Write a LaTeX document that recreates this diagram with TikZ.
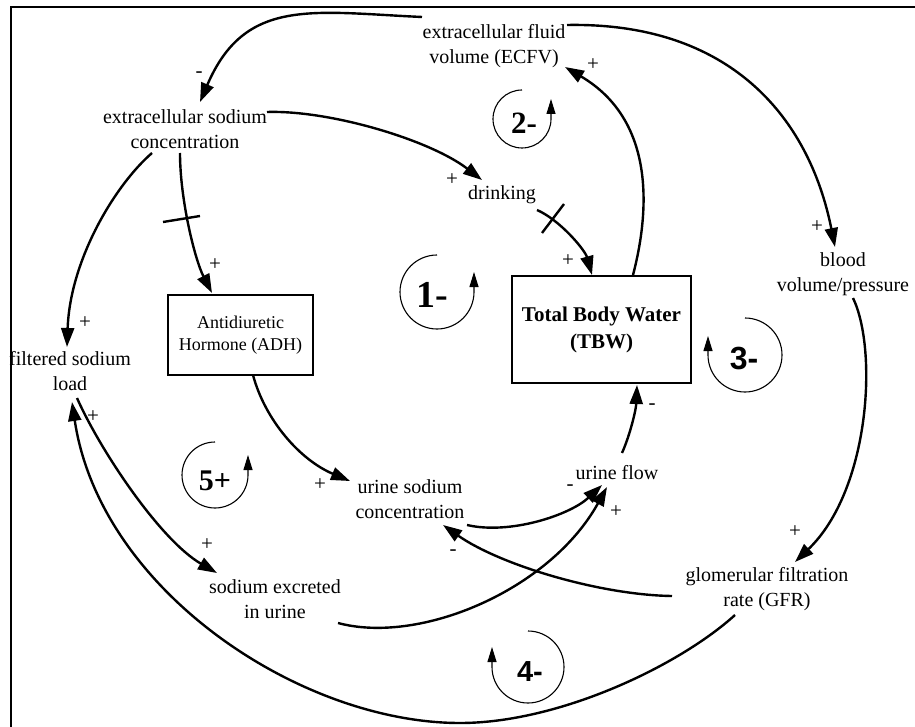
\documentclass[tikz,border=0pt]{standalone}
\usepackage{fontspec}
\setmainfont{Liberation Serif}
\newfontfamily\loopsans{Liberation Sans}
\usetikzlibrary{arrows.meta}
\tikzset{
  lbl/.style={inner sep=0pt, align=center, font=\fontsize{20}{24.5}\selectfont},
  boxnode/.style={draw, line width=1.2pt, inner sep=0pt, align=center},
  link/.style={line width=2.4pt, -{Triangle[length=19pt,width=13pt]}},
  delaymark/.style={line width=2.4pt},
  pol/.style={inner sep=0pt, font=\fontsize{21}{21}\selectfont},
  loopc/.style={line width=1.1pt, -{Triangle[length=15pt,width=9pt]}},
  loopserif/.style={inner sep=0pt, font=\bfseries\fontsize{#1}{#1}\selectfont},
  loopsansf/.style={inner sep=0pt, font=\loopsans\bfseries\fontsize{#1}{#1}\selectfont},
  framel/.style={line width=2.5pt}
}
\begin{document}
\begin{tikzpicture}[x=1pt,y=-1pt]
\useasboundingbox (0,0) rectangle (915,727);
\draw[framel] (11,760) -- (11,7) -- (940,7);

% variables
\node[lbl] (ecfv) at (494,46) {extracellular fluid\\volume (ECFV)};
\node[lbl] (esc) at (185,129) {extracellular sodium\\concentration};
\node[lbl] (drink) at (502,195) {drinking};
\node[boxnode, minimum width=145pt, minimum height=80pt, font=\fontsize{18}{22.5}\selectfont] (adh) at (240.5,335) {Antidiuretic\\Hormone (ADH)};
\node[boxnode, minimum width=179pt, minimum height=107pt, font=\bfseries\fontsize{21}{27}\selectfont] (tbw) at (601.5,329.5) {Total Body Water\\(TBW)};
\node[lbl] (blood) at (843,274) {blood\\volume/pressure};
\node[lbl] (fsl) at (70,371) {filtered sodium\\load};
\node[lbl] (usc) at (410,499) {urine sodium\\concentration};
\node[lbl] (uflow) at (617,473) {urine flow};
\node[lbl] (gfr) at (767,589) {glomerular filtration\\rate (GFR)};
\node[lbl] (sex) at (275,599) {sodium excreted\\in urine};

% links
\draw[link] ([shift={(-72,-29)}]ecfv.center) .. controls (312,12) and (245,-3) .. ([shift={(15,-27)}]esc.center);
\draw[link] ([shift={(73,-21)}]ecfv.center) .. controls (730,22) and (809,117) .. ([shift={(-8,-27)}]blood.center);
\draw[link] ([shift={(82,-17)}]esc.center) .. controls (330,110) and (430,140) .. ([shift={(-20,-15)}]drink.center);
\draw[link] ([shift={(-5,24)}]esc.center) .. controls (180,200) and (195,260) .. ([shift={(-28.5,-42)}]adh.center);
\draw[link] ([shift={(-33,24)}]esc.center) .. controls (115,185) and (70,260) .. ([shift={(-3,-24)}]fsl.center);
\draw[link] ([shift={(35,15)}]drink.center) .. controls (560,220) and (585,250) .. ([shift={(-9.5,-54.5)}]tbw.center);
\draw[link] ([shift={(31.5,-54.5)}]tbw.center) .. controls (650,210) and (655,120) .. ([shift={(71,21)}]ecfv.center);
\draw[link] ([shift={(10,24)}]blood.center) .. controls (878,350) and (870,490) .. ([shift={(28,-27)}]gfr.center);
\draw[link] ([shift={(12.5,40)}]adh.center) .. controls (265,420) and (300,460) .. ([shift={(-60,-18)}]usc.center);
\draw[link] ([shift={(57,26)}]usc.center) .. controls (510,535) and (570,515) .. ([shift={(-15,12)}]uflow.center);
\draw[link] ([shift={(63,24)}]sex.center) .. controls (420,645) and (550,590) .. ([shift={(-10,14)}]uflow.center);
\draw[link] ([shift={(-95,7)}]gfr.center) .. controls (600,595) and (500,565) .. ([shift={(33,26)}]usc.center);
\draw[link] ([shift={(5,-20)}]uflow.center) .. controls (630,435) and (636,410) .. ([shift={(35.5,55.5)}]tbw.center);
\draw[link] ([shift={(7,27)}]fsl.center) .. controls (100,450) and (160,540) .. ([shift={(-58,-26)}]sex.center);
\draw[link] ([shift={(-32,26)}]gfr.center) .. controls (680,665) and (560,723) .. (460,723)
   .. controls (300,723) and (100,590) .. ([shift={(2,31)}]fsl.center);

% delay marks
\draw[delaymark] (163,222) -- (200,216);
\draw[delaymark] (542,233) -- (564,204);

% polarities
\node[pol] (p1) at (199,75) {-};
\node[pol] (p2) at (817,227) {+};
\node[pol] (p3) at (452,180) {+};
\node[pol] (p4) at (215,265) {+};
\node[pol] (p5) at (85,323) {+};
\node[pol] (p6) at (568,261) {+};
\node[pol] (p7) at (593,65) {+};
\node[pol] (p8) at (795,532) {+};
\node[pol] (p9) at (320,485) {+};
\node[pol] (p10) at (570,488) {-};
\node[pol] (p11) at (616,512) {+};
\node[pol] (p12) at (453,553) {-};
\node[pol] (p13) at (652,407) {-};
\node[pol] (p14) at (207,545) {+};
\node[pol] (p15) at (93,417) {+};

% loop markers
\draw[loopc] (437,255) arc[start angle=270, end angle=0, radius=37] -- ++(0,-20);
\node[loopserif=38] (l1) at (432,295) {1-};
\draw[loopc] (522,90) arc[start angle=270, end angle=0, radius=29] -- ++(0,-20);
\node[loopserif=31] (l2) at (524,123) {2-};
\draw[loopc] (745,318) arc[start angle=270, end angle=540, radius=37] -- ++(0,-19);
\node[loopsansf=32] (l3) at (744,359) {3-};
\draw[loopc] (528,631) arc[start angle=270, end angle=540, radius=36] -- ++(0,-20);
\node[loopsansf=29] (l4) at (530,672) {4-};
\draw[loopc] (215,442) arc[start angle=270, end angle=0, radius=33] -- ++(0,-20);
\node[loopserif=30] (l5) at (215,481) {5+};
\end{tikzpicture}
\end{document}
